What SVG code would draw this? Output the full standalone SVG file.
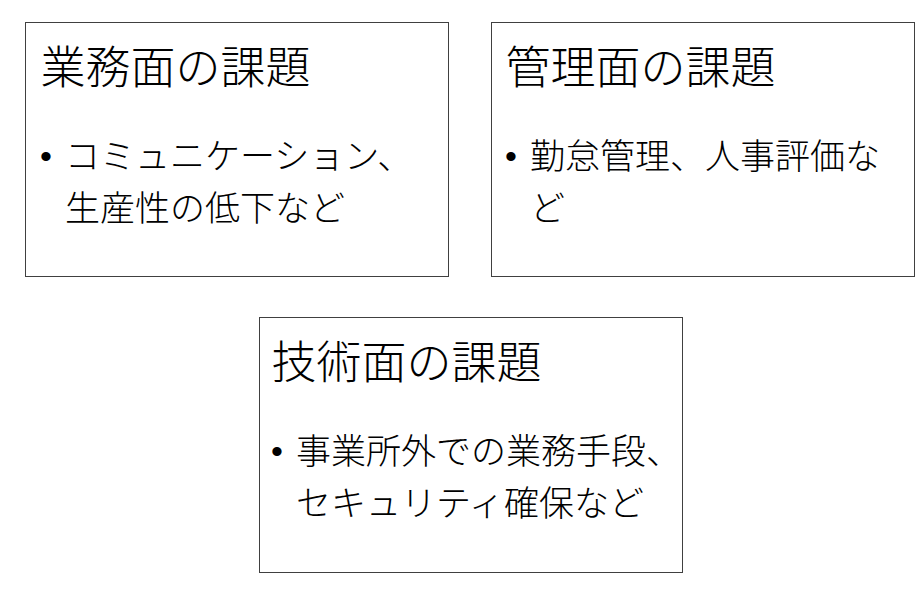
<svg xmlns="http://www.w3.org/2000/svg" width="922" height="594" viewBox="0 0 922 594">
<style>
.box{fill:#fff;stroke:#404040;stroke-width:1}
.t{font-family:"Noto Sans CJK JP","Noto Sans CJK SC",sans-serif;font-weight:300;fill:#000}
.h{font-size:45px}
.b{font-size:35px}
.dot{font-family:"Liberation Sans",Arial,sans-serif;font-size:34px;fill:#000}
</style>
<rect x="0" y="0" width="922" height="594" fill="#fff"/>
<g id="node-business">
<rect class="box" x="25.5" y="22.5" width="423" height="254"/>
<text class="t h" x="40.5" y="84">業務面の課題</text>
<text class="dot" x="40" y="168">•</text>
<text class="t b" x="65" y="169">コミュニケーション、</text>
<text class="t b" x="65" y="221">生産性の低下など</text>
</g>
<g id="node-management">
<rect class="box" x="491.5" y="22.5" width="423" height="254"/>
<text class="t h" x="505.5" y="84">管理面の課題</text>
<text class="dot" x="505" y="168">•</text>
<text class="t b" x="530" y="169">勤怠管理、人事評価な</text>
<text class="t b" x="530" y="221">ど</text>
</g>
<g id="node-technical">
<rect class="box" x="259.5" y="317.5" width="423" height="255"/>
<text class="t h" x="271.5" y="379">技術面の課題</text>
<text class="dot" x="271" y="463">•</text>
<text class="t b" x="296" y="464">事業所外での業務手段、</text>
<text class="t b" x="296" y="516">セキュリティ確保など</text>
</g>
<g id="connectors"></g>
</svg>
